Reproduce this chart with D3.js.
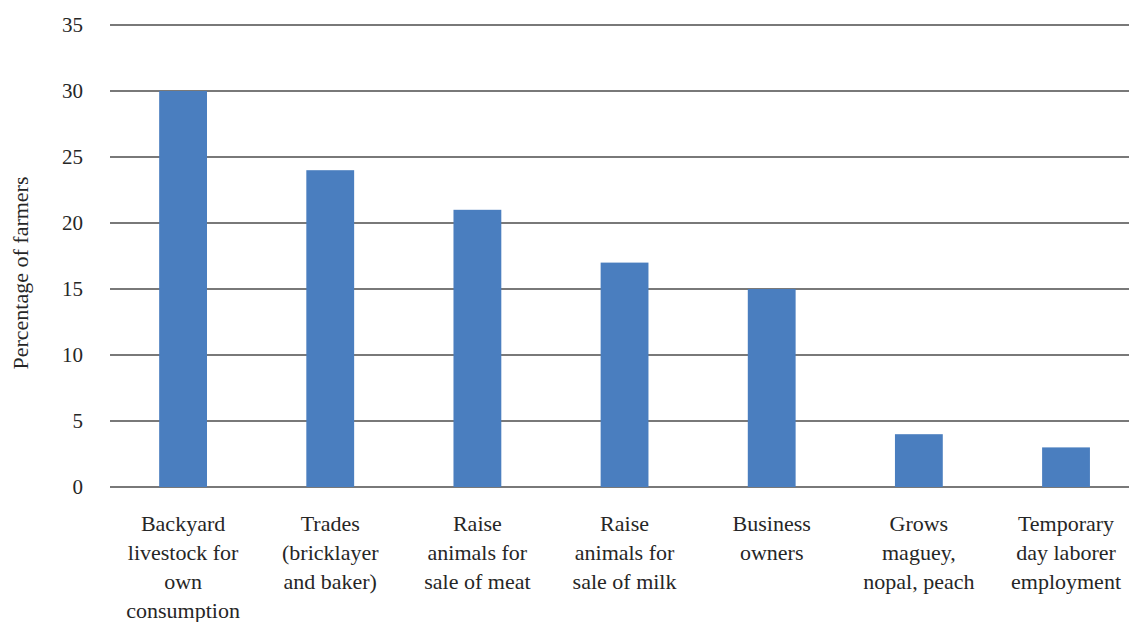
<!DOCTYPE html>
<html><head><meta charset="utf-8">
<script src="https://cdn.jsdelivr.net/npm/d3@7"></script>
<style>body{margin:0;background:#fff;}svg{display:block;}</style>
</head><body>
<svg id="c" width="1129" height="622"></svg>
<script>
const categories = [
  ["Backyard","livestock for","own","consumption"],
  ["Trades","(bricklayer","and baker)"],
  ["Raise","animals for","sale of meat"],
  ["Raise","animals for","sale of milk"],
  ["Business","owners"],
  ["Grows","maguey,","nopal, peach"],
  ["Temporary","day laborer","employment"]
];
const values = [30, 24, 21, 17, 15, 4, 3];
const yTicks = [0, 5, 10, 15, 20, 25, 30, 35];
const yTitle = "Percentage of farmers";

const svg = d3.select("#c");
const mLeft = 109.5, mRight = 1139.6, mTop = 25, mBottom = 487;
const font = "'Liberation Serif', 'Times New Roman', serif";

const x = d3.scaleBand().domain(d3.range(categories.length)).range([mLeft, mRight]).paddingInner(0.675).paddingOuter(0.3375);
const y = d3.scaleLinear().domain([0, 35]).range([mBottom, mTop]);

// gridlines
svg.append("g").selectAll("line").data(yTicks).join("line")
  .attr("x1", 110).attr("x2", 1129)
  .attr("y1", d => y(d)).attr("y2", d => y(d))
  .attr("stroke", "#4d4d4d").attr("stroke-width", 1.4);

// tick labels
svg.append("g").selectAll("text").data(yTicks).join("text")
  .attr("x", 83).attr("y", d => y(d)).attr("dy", "0.35em")
  .attr("text-anchor", "end")
  .style("font-family", font).attr("font-size", 21).attr("fill", "#262626")
  .text(d => d);

// bars
svg.append("g").selectAll("rect").data(values).join("rect")
  .attr("x", (d, i) => x(i)).attr("width", x.bandwidth())
  .attr("y", d => y(d)).attr("height", d => y(0) - y(d))
  .attr("fill", "#4a7ebf");

// category labels
const cl = svg.append("g").selectAll("text").data(categories).join("text")
  .attr("text-anchor", "middle")
  .style("font-family", font).attr("font-size", 22).attr("fill", "#262626");
cl.each(function(lines, i) {
  const t = d3.select(this);
  lines.forEach((ln, j) => {
    t.append("tspan").attr("x", x(i) + x.bandwidth() / 2).attr("y", 531 + j * 29).text(ln);
  });
});

// y title
svg.append("text")
  .attr("transform", "translate(28,273) rotate(-90)")
  .attr("text-anchor", "middle")
  .style("font-family", font).attr("font-size", 22).attr("fill", "#262626")
  .text(yTitle);
</script>
</body></html>
